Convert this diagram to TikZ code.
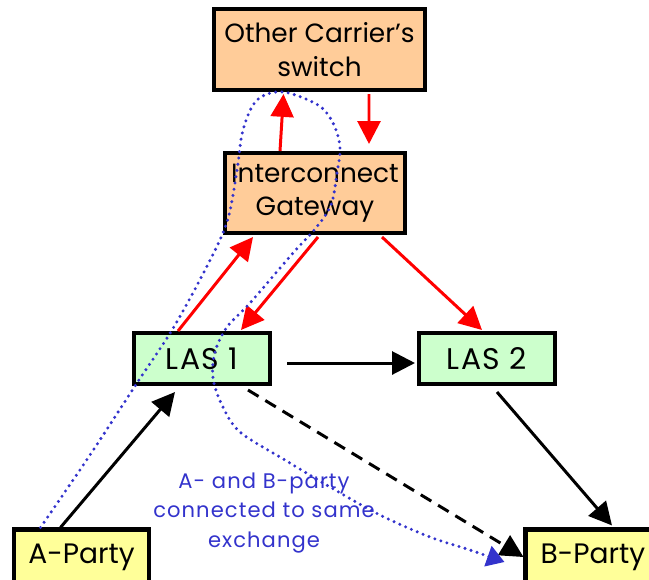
\documentclass[tikz,border=0pt]{standalone}
\usepackage{fontspec}
\setmainfont{Poppins}
\newfontfamily\spaced[LetterSpace=5]{Poppins}
\usepackage{tikz}
\usetikzlibrary{arrows.meta,calc}
\definecolor{switchorange}{HTML}{FFCC99}
\definecolor{lasgreen}{HTML}{CCFFCC}
\definecolor{partyyellow}{HTML}{FFFF99}
\definecolor{callblue}{HTML}{3333CC}
\tikzset{box/.style={draw,line width=2.3pt,inner sep=0pt,align=center,font=\fontsize{15}{19}\selectfont},
  las/.style={box,fill=lasgreen,minimum width=2.72cm,minimum height=1.02cm,font=\spaced\fontsize{17}{20}\selectfont},
  party/.style={box,fill=partyyellow,minimum width=2.7cm,minimum height=1.1cm,font=\fontsize{16}{20}\selectfont},
  sig/.style={->,red,line width=1.7pt},
  link/.style={->,black,line width=1.7pt},
  call/.style={-{Triangle[length=10pt,width=12pt]},callblue,line width=1.9pt,line cap=round,dash pattern=on 0pt off 3.6pt}}

\begin{document}
\begin{tikzpicture}[x=0.02cm,y=-0.02cm,>={Triangle[length=13pt,width=13pt]}]
    \useasboundingbox (0,0) rectangle (649,579);
    \clip (0,0) rectangle (649,579);

    \node[box,fill=switchorange,minimum width=4.22cm,minimum height=1.62cm] (ocs) at (319.5,49.5) {Other Carrier’s\\switch};
    \node[box,fill=switchorange,minimum width=3.6cm,minimum height=1.6cm] (igw) at (315,193) {Interconnect\\Gateway};
    \node[las] (las1) at (202,358.5) {LAS 1};
    \node[las] (las2) at (487,358.5) {LAS 2};
    \node[party] (apty) at (81.5,557) {A-Party};
    \node[party] (bpty) at (593,557) {B-Party};
    \coordinate (callend) at ($(bpty.west)+(-19,5)$);

    \draw [sig] ($(igw.north)+(-35,0)$) -- ($(ocs.south)+(-36,2)$);
    \draw [sig] ($(ocs.south)+(49.5,2)$) -- ($(igw.north)+(54,-7)$);
    \draw [sig] ($(las1.north)+(-24,0)$) -- ($(igw.south)+(-62,2)$);
    \draw [sig] ($(igw.south)+(3,2)$) -- ($(las1.north)+(39,-1)$);
    \draw [sig] ($(igw.south)+(67,2)$) -- ($(las2.north)+(-5,-1)$);

    \draw [link] ($(las1.east)+(15,4.5)$) -- ($(las2.west)+(-2,4.5)$);
    \draw [link] ($(apty.north)+(-21,0)$) -- ($(las1.south)+(-27,6)$);
    \draw [link] ($(las2.south)+(10,6)$) -- ($(bpty.north)+(19,-2)$);
    \draw [link,dashed,dash pattern=on 7pt off 4.5pt] ($(las1.south)+(46,4)$) -- (bpty.west);

    \draw [call] plot[smooth,tension=0.55] coordinates {($(apty.north)+(-41,0)$) (90,455) (137,383) (172,330) (205,270) (227,222)
      (237,170) (243,130) (257,100) (283,92) (318,105) (333,123) (340,147) (337,173) (331,205) (315,229)
      (293,253) (250,303) (227,327) (215,352) (213,378) (222,405) (240,432) (285,460) (330,487)
      (380,515) (430,537) (470,550) (callend)};

    \node[text=callblue,align=center,font=\spaced\fontsize{12}{16.7}\selectfont] (note) at (264,513) {A- and B-party\\connected to same\\exchange};
\end{tikzpicture}
\end{document}
